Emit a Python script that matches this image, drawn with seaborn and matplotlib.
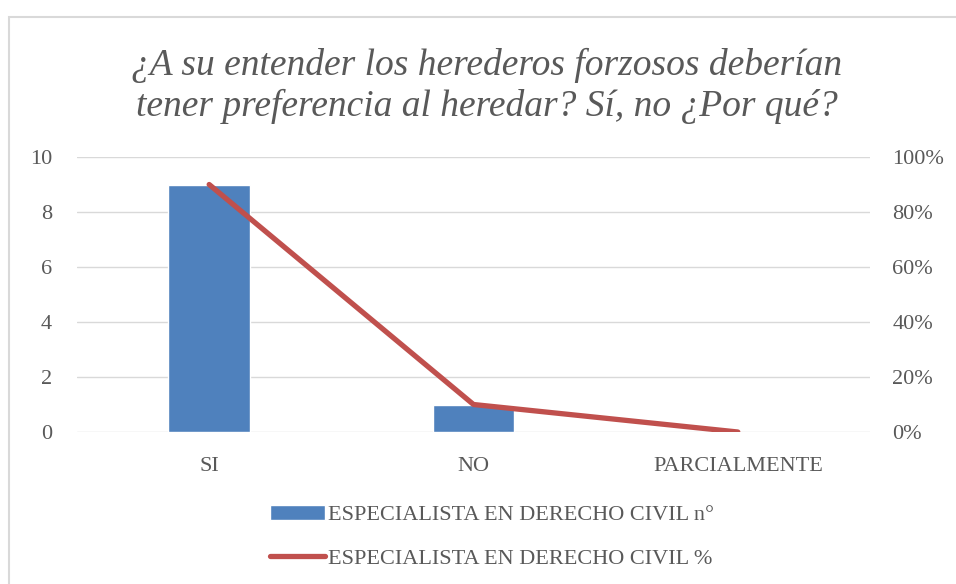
import numpy as np
import pandas as pd
import matplotlib
matplotlib.use("Agg")
import matplotlib.pyplot as plt
import seaborn as sns
from matplotlib.patches import Rectangle
from matplotlib.ticker import FuncFormatter

# --- data ---
categories = ["SI", "NO", "PARCIALMENTE"]
counts = [9, 1, 0]
percents = [0.90, 0.10, 0.00]
bar_label = "ESPECIALISTA EN DERECHO CIVIL n°"
line_label = "ESPECIALISTA EN DERECHO CIVIL %"
title = "¿A su entender los herederos forzosos deberían\ntener preferencia al heredar? Sí, no ¿Por qué?"

BLUE = "#4F81BD"
RED = "#C0504D"
GRID = "#D9D9D9"
TEXT = "#595959"

sns.set_theme(style="white")
plt.rcParams["font.family"] = ["Liberation Serif", "DejaVu Serif"]

df = pd.DataFrame({"cat": categories, "n": counts, "pct": percents})

fig = plt.figure(figsize=(9.56, 5.84), dpi=100)
ax = fig.add_axes([77 / 956, 1 - 432 / 584, (870 - 77) / 956, (432 - 157) / 584])

# bars: counts on the left axis
sns.barplot(data=df, x="cat", y="n", color=BLUE, width=0.31, saturation=1,
            ax=ax, label=bar_label)
ax.set_ylim(0, 10)
ax.set_yticks(range(0, 11, 2))
ax.set_xlim(-0.5, len(categories) - 0.5)
ax.grid(axis="y", color=GRID, lw=1.0)
ax.set_axisbelow(True)
ax.set_xlabel("")
ax.set_ylabel("")
for s in ax.spines.values():
    s.set_visible(False)
ax.tick_params(axis="y", length=0, pad=18, labelsize=16, labelcolor=TEXT)
ax.tick_params(axis="x", length=0, pad=18, labelsize=16, labelcolor=TEXT)

# line: percentages on the right axis
ax2 = ax.twinx()
sns.lineplot(x=np.arange(len(categories)), y=df["pct"], color=RED, lw=3.8,
             ax=ax2, label=line_label, solid_capstyle="round")
ax2.set_ylim(0, 1)
ax2.set_yticks(np.linspace(0, 1, 6))
ax2.yaxis.set_major_formatter(FuncFormatter(lambda v, _: f"{v:.0%}"))
ax2.set_ylabel("")
for s in ax2.spines.values():
    s.set_visible(False)
ax2.tick_params(axis="y", length=0, pad=16, labelsize=16, labelcolor=TEXT)
if ax2.get_legend() is not None:
    ax2.get_legend().remove()
if ax.get_legend() is not None:
    ax.get_legend().remove()

fig.text(487 / 956, 1 - 86 / 584, title, ha="center", va="center",
         fontsize=27, style="italic", color=TEXT, linespacing=1.2)

h1, l1 = ax.get_legend_handles_labels()
h2, l2 = ax2.get_legend_handles_labels()
fig.legend(h1 + h2, l1 + l2, loc="center", bbox_to_anchor=(492 / 956, 1 - 537 / 584),
           ncol=1, frameon=False, fontsize=16, labelcolor=TEXT,
           handlelength=2.5, handletextpad=0.15, labelspacing=1.05)

# light frame around the chart area
fig.patches.append(Rectangle((8.5 / 956, -0.1), 1.2, 1.1 - 16.5 / 584,
                             transform=fig.transFigure, fill=False,
                             edgecolor=GRID, lw=1.5))

fig.savefig("out.png", dpi=100)
